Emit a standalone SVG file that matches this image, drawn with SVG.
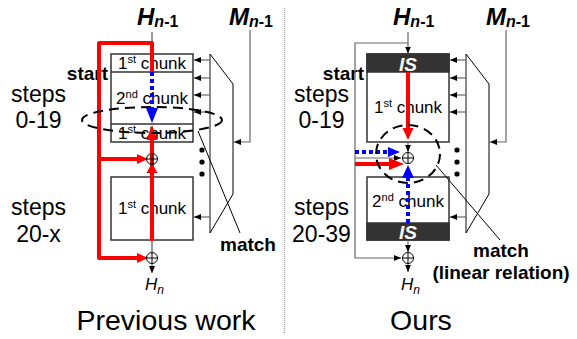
<svg xmlns="http://www.w3.org/2000/svg" width="577" height="339" viewBox="0 0 577 339">
<defs>
<marker id="ah" markerWidth="7" markerHeight="6" refX="7" refY="3" orient="auto" markerUnits="userSpaceOnUse"><path d="M0,0 L7,3 L0,6 z" fill="#000"/></marker>
<style>
text{font-family:"Liberation Sans",Arial,sans-serif;fill:#000}
.box{fill:#fff;stroke:#333;stroke-width:1.5}
.band{fill:#333;stroke:#333;stroke-width:1.5}
.sep{stroke:#333;stroke-width:1.5}
.chunk{font-size:17px;text-anchor:middle}
.sup{font-size:11px}
.is{font-size:19px;font-weight:bold;font-style:italic;fill:#fff;text-anchor:middle}
.step{font-size:23px;text-anchor:middle}
.bold{font-size:19px;font-weight:bold}
.title{font-size:28.5px;text-anchor:middle}
.var{font-size:24px;font-weight:bold;font-style:italic}
.sub{font-size:16px}
.out{font-size:17px;font-style:italic}
.thin{fill:none;stroke:#555;stroke-width:1.2}
.arr{fill:none;stroke:#666;stroke-width:1.2;marker-end:url(#ah)}
.mux{fill:none;stroke:#000;stroke-width:1}
.muxv{stroke:#888;stroke-width:2}
.red{fill:none;stroke:#f00;stroke-width:4;stroke-linejoin:round}
.redh{fill:#f00}
.blue{fill:none;stroke:#00f;stroke-width:4;stroke-dasharray:4 3}
.blueh{fill:#00f}
.dash{fill:none;stroke:#000;stroke-width:2;stroke-dasharray:10 6}
.plus{fill:none;stroke:#000;stroke-width:1}
</style>
</defs>
<rect width="577" height="339" fill="#fff"/>

<!-- divider -->
<line x1="284.5" y1="8" x2="284.5" y2="333" stroke="#999" stroke-width="1.2" stroke-dasharray="1 1"/>

<!-- ================= LEFT: Previous work ================= -->
<g id="prev-labels">
<text x="137" y="25" class="var">H<tspan class="sub" dy="2">n</tspan><tspan class="sub" font-style="normal">-1</tspan></text>
<text x="229" y="25" class="var">M<tspan class="sub" dy="2">n</tspan><tspan class="sub" font-style="normal">-1</tspan></text>
<text x="108" y="80" class="bold" text-anchor="end">start</text>
<text x="38.5" y="102" class="step">steps</text>
<text x="38.5" y="128" class="step">0-19</text>
<text x="38.5" y="215" class="step">steps</text>
<text x="38.5" y="242" class="step">20-x</text>
<text x="220" y="251" class="bold">match</text>
<text x="145" y="290" class="out">H<tspan font-size="12" dy="4">n</tspan></text>
<text x="166" y="330" class="title">Previous work</text>
</g>

<g id="prev-box-top">
<rect x="111" y="54" width="82" height="88" class="box"/>
<line x1="111" y1="72" x2="193" y2="72" class="sep"/>
<line x1="111" y1="124" x2="193" y2="124" class="sep"/>
<text x="152" y="68.5" class="chunk">1<tspan class="sup" dy="-6">st</tspan><tspan dy="6"> chunk</tspan></text>
<text x="152" y="104" class="chunk">2<tspan class="sup" dy="-6">nd</tspan><tspan dy="6"> chunk</tspan></text>
<text x="152" y="139" class="chunk">1<tspan class="sup" dy="-6">st</tspan><tspan dy="6"> chunk</tspan></text>
</g>

<g id="prev-box-bottom">
<rect x="111" y="177" width="82" height="63" class="box"/>
<text x="152" y="214" class="chunk">1<tspan class="sup" dy="-6">st</tspan><tspan dy="6"> chunk</tspan></text>
</g>

<g id="prev-mux">
<line x1="210" y1="54" x2="210" y2="233" class="muxv"/>
<path d="M210,54 L233,84 L233,194 L210,233" class="mux"/>
<circle cx="202" cy="150" r="2.6"/>
<circle cx="202" cy="162" r="2.6"/>
<circle cx="202" cy="174" r="2.6"/>
</g>

<g id="prev-connectors">
<line x1="152" y1="32" x2="152" y2="43" class="thin"/>
<line x1="152" y1="241" x2="152" y2="252" class="thin"/>
<path d="M152,264 L152,273" class="arr"/>
<path d="M210,60 L194,60" class="arr"/>
<path d="M210,78 L194,78" class="arr"/>
<path d="M210,95 L194,95" class="arr"/>
<path d="M210,112 L194,112" class="arr"/>
<path d="M210,217 L194,217" class="arr"/>
<path d="M250,30 L250,142 L234,142" class="arr"/>
<line x1="198" y1="131" x2="240" y2="233" class="mux"/>
<!-- red path -->
<path d="M152,72 L152,43 L99,43 L99,258 L139,258" class="red"/>
<path d="M99,159 L139,159" class="red"/>
<polygon points="137,253 148,258 137,263" class="redh"/>
<polygon points="137,154 148,159 137,164" class="redh"/>
<path d="M152,241 L152,139" class="red"/>
<polygon points="146.5,140 152,125 157.5,140" class="redh"/>
<polygon points="146.5,173 152,163 157.5,173" class="redh"/>
<!-- blue -->
<path d="M152,72 L152,108" class="blue"/>
<polygon points="146,108 152,123 158,108" class="blueh"/>
<!-- plus -->
<circle cx="152" cy="159" r="5.5" class="plus"/>
<path d="M146.5,159 H157.5 M152,153.5 V164.5" class="plus"/>
<circle cx="152" cy="258" r="5.5" class="plus"/>
<path d="M146.5,258 H157.5 M152,252.5 V263.5" class="plus"/>
<ellipse cx="152" cy="120" rx="70" ry="13" class="dash"/>
</g>

<!-- ================= RIGHT: Ours ================= -->
<g id="ours-labels">
<text x="393" y="25" class="var">H<tspan class="sub" dy="2">n</tspan><tspan class="sub" font-style="normal">-1</tspan></text>
<text x="486" y="25" class="var">M<tspan class="sub" dy="2">n</tspan><tspan class="sub" font-style="normal">-1</tspan></text>
<text x="364" y="80" class="bold" text-anchor="end">start</text>
<text x="321.5" y="102" class="step">steps</text>
<text x="321.5" y="128" class="step">0-19</text>
<text x="321.5" y="215" class="step">steps</text>
<text x="321.5" y="242" class="step">20-39</text>
<text x="501" y="257" class="bold" text-anchor="middle">match</text>
<text x="501" y="279" class="bold" text-anchor="middle">(linear relation)</text>
<text x="401" y="290" class="out">H<tspan font-size="12" dy="4">n</tspan></text>
<text x="421" y="330" class="title">Ours</text>
</g>

<g id="ours-box-top">
<rect x="367" y="54" width="82" height="88" class="box"/>
<rect x="367" y="54" width="82" height="18" class="band"/>
<text x="408" y="71" class="is">IS</text>
<text x="408" y="113" class="chunk">1<tspan class="sup" dy="-6">st</tspan><tspan dy="6"> chunk</tspan></text>
</g>

<g id="ours-box-bottom">
<rect x="367" y="177" width="82" height="63" class="box"/>
<rect x="367" y="223" width="82" height="17" class="band"/>
<text x="408" y="207" class="chunk">2<tspan class="sup" dy="-6">nd</tspan><tspan dy="6"> chunk</tspan></text>
<text x="408" y="239" class="is">IS</text>
</g>

<g id="ours-mux">
<line x1="466" y1="54" x2="466" y2="233" class="muxv"/>
<path d="M466,54 L489,84 L489,194 L466,233" class="mux"/>
<circle cx="457" cy="150" r="2.6"/>
<circle cx="457" cy="162" r="2.6"/>
<circle cx="457" cy="174" r="2.6"/>
</g>

<g id="ours-connectors">
<path d="M408,32 L408,53.5" class="arr"/>
<path d="M408,43 L355,43 L355,258 L401,258" class="arr"/>
<path d="M355,158 L401,158" class="arr"/>
<path d="M408,142 L408,152" class="arr"/>
<path d="M408,240 L408,252" class="arr"/>
<path d="M408,264 L408,272" class="arr"/>
<path d="M466,60 L450,60" class="arr"/>
<path d="M466,78 L450,78" class="arr"/>
<path d="M466,95 L450,95" class="arr"/>
<path d="M466,112 L450,112" class="arr"/>
<path d="M466,217 L450,217" class="arr"/>
<path d="M506,30 L506,142 L490,142" class="arr"/>
<line x1="436" y1="165" x2="500" y2="240" class="mux"/>
<!-- red -->
<path d="M408,72 L408,128" class="red"/>
<polygon points="402.5,128 408,140 413.5,128" class="redh"/>
<path d="M355,164 L390,164" class="red"/>
<polygon points="389,158 404,164 389,170" class="redh"/>
<!-- blue -->
<path d="M355,152 L389,152" class="blue"/>
<polygon points="388,147 400,152 388,157" class="blueh"/>
<path d="M408,223 L408,178" class="blue"/>
<polygon points="402,178 408,165 414,178" class="blueh"/>
<!-- plus -->
<circle cx="408" cy="158" r="5.5" class="plus"/>
<path d="M402.5,158 H413.5 M408,152.5 V163.5" class="plus"/>
<circle cx="408" cy="258" r="5.5" class="plus"/>
<path d="M402.5,258 H413.5 M408,252.5 V263.5" class="plus"/>
<ellipse cx="408" cy="154" rx="32" ry="29" class="dash"/>
</g>
</svg>
